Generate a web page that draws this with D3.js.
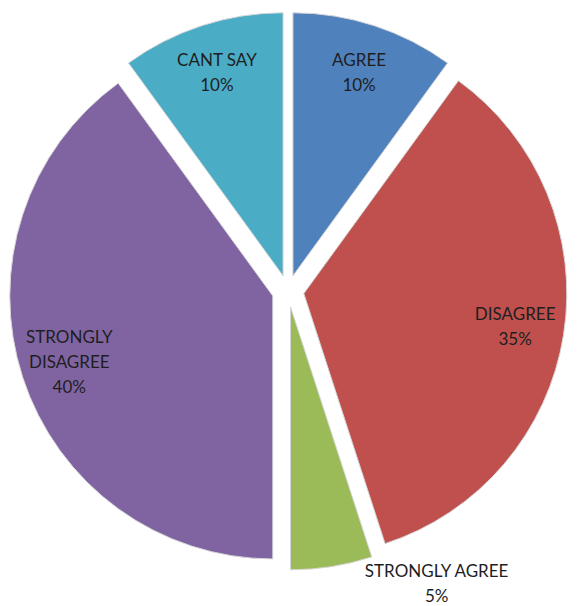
<!DOCTYPE html>
<meta charset="utf-8">
<style>
body { margin: 0; background: #fff; }
.label { font-family: Lato, "Open Sans", sans-serif; font-size: 17px; fill: #1e1e1e; }
</style>
<body>
<svg id="chart" width="579" height="606"></svg>
<script src="https://cdn.jsdelivr.net/npm/d3@7"></script>
<script>

var categories = ["AGREE", "DISAGREE", "STRONGLY AGREE", "STRONGLY DISAGREE", "CANT SAY"];
var values = [10, 35, 5, 40, 10];
var colors = ["#4F81BD", "#C0504D", "#9BBB59", "#8064A2", "#4BACC6"];

var width = 579,
    height = 606;

var cx = 288,
    cy = 291,
    radius = 263,
    explode = 16,
    labelRadius = 214,
    lineHeight = 25;

var svg = d3.select("#chart");
var total = d3.sum(values);

var pie = d3.pie().sort(null).value(d => d);
var arcs = pie(values);

var arc = d3.arc().innerRadius(0).outerRadius(radius);

// every slice is pulled out along its own bisector
function offset(d) {
  var a = (d.startAngle + d.endAngle) / 2;
  return [cx + explode * Math.sin(a), cy - explode * Math.cos(a)];
}

var slices = svg.append("g").selectAll("g")
  .data(arcs)
  .enter().append("g")
  .attr("transform", d => "translate(" + offset(d) + ")");

slices.append("path")
  .attr("d", arc)
  .attr("fill", (d, i) => colors[i])
  .attr("stroke", "#d6d6d6")
  .attr("stroke-width", 1);

// labels
slices.each(function(d, i) {
  var g = d3.select(this);
  var pct = Math.round(d.value / total * 100) + "%";
  var name = categories[i];
  var inside = d.value / total >= 0.08;
  var lines, x, y;

  if (inside) {
    lines = name.length > 12 ? name.split(" ") : [name];
    lines.push(pct);
    var a = (d.startAngle + d.endAngle) / 2;
    x = labelRadius * Math.sin(a);
    y = -labelRadius * Math.cos(a);
  } else {
    // small slice: label sits outside, just past the corner of the slice
    lines = [name, pct];
    x = radius * Math.sin(d.startAngle);
    y = -radius * Math.cos(d.startAngle) + 27;
  }

  var t = g.append("text")
    .attr("class", "label")
    .attr("text-anchor", "middle");

  lines.forEach((s, k) => {
    t.append("tspan")
      .attr("x", x)
      .attr("y", y + (k - (lines.length - 1) / 2) * lineHeight)
      .attr("dy", "0.35em")
      .text(s);
  });

  if (!inside) {
    var w = t.node().getBBox().width;
    t.selectAll("tspan").attr("x", x - 7 + w / 2);
  }
});

</script>
</body>
